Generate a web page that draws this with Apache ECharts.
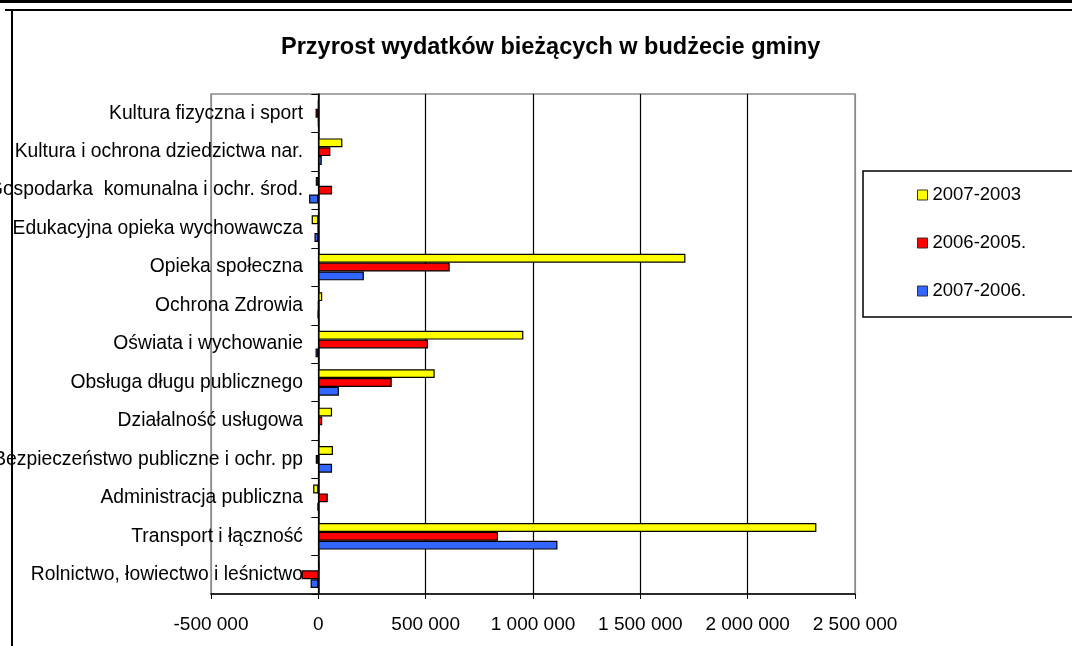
<!DOCTYPE html>
<html>
<head>
<meta charset="utf-8">
<script src="https://cdn.jsdelivr.net/npm/echarts@6/dist/echarts.min.js"></script>
<style>
  html, body { margin: 0; padding: 0; background: #fff; }
  #chart { width: 1072px; height: 646px; }
</style>
</head>
<body>
<div id="chart"></div>
<script>
// categories from top to bottom (y axis is inverted)
const categories = [
  'Kultura fizyczna i sport',
  'Kultura i ochrona dziedzictwa nar.',
  'Gospodarka  komunalna i ochr. środ.',
  'Edukacyjna opieka wychowawcza',
  'Opieka społeczna',
  'Ochrona Zdrowia',
  'Oświata i wychowanie',
  'Obsługa długu publicznego',
  'Działalność usługowa',
  'Bezpieczeństwo publiczne i ochr. pp',
  'Administracja publiczna',
  'Transport i łączność',
  'Rolnictwo, łowiectwo i leśnictwo'
];

const seriesNames = ['2007-2003', '2006-2005.', '2007-2006.'];
const seriesColors = ['#ffff00', '#ff0000', '#3366ff'];

const growth2007_2003 = [0, 112000, -12000, -31000, 1710000, 18000, 955000, 542000, 64000, 68000, -24000, 2320000, 4000];
const growth2006_2005 = [-13000, 56000, 64000, -3000, 612000, 0, 511000, 342000, 18000, -12000, 44000, 837000, -78000];
const growth2007_2006 = [0, 16000, -43000, -18000, 212000, -3000, -13000, 96000, 5000, 64000, -4000, 1114000, -36000];

const axisTicks = [-500000, 0, 500000, 1000000, 1500000, 2000000, 2500000];

const FONT = 'Liberation Sans, Arial, sans-serif';
const seriesData = [growth2007_2003, growth2006_2005, growth2007_2006];

const chart = echarts.init(document.getElementById('chart'), null, { renderer: 'canvas' });

// split lines: plot edges grey, inner gridlines black
const splitColors = axisTicks.map((v, i) => (i === 0 || i === axisTicks.length - 1) ? '#8c8c8c' : '#000');

chart.setOption({
  backgroundColor: '#ffffff',
  animation: false,
  textStyle: { fontFamily: FONT, color: '#000' },
  title: {
    text: 'Przyrost wydatków bieżących w budżecie gminy',
    left: 281,
    top: 36,
    padding: 0,
    textStyle: { fontFamily: FONT, fontSize: 23.5, fontWeight: 'bold', color: '#000' }
  },
  legend: {
    orient: 'vertical',
    left: 863,
    top: 171,
    padding: [14, 120, 16, 54],
    itemGap: 28,
    itemWidth: 10,
    itemHeight: 10,
    icon: 'rect',
    selectedMode: false,
    borderColor: '#000',
    borderWidth: 1.5,
    itemStyle: { borderColor: '#333', borderWidth: 1 },
    textStyle: { fontFamily: FONT, fontSize: 18.5, lineHeight: 20, color: '#000' },
    data: seriesNames
  },
  grid: {
    left: 211,
    right: 217,
    top: 94,
    bottom: 52,
    containLabel: false,
    outerBoundsMode: 'none',
    show: true,
    borderColor: '#8c8c8c',
    borderWidth: 1.5,
    backgroundColor: 'transparent'
  },
  xAxis: {
    type: 'value',
    min: -500000,
    max: 2500000,
    interval: 500000,
    axisLine: { show: true, lineStyle: { color: '#000', width: 1.5 } },
    axisTick: { show: true, length: 5, lineStyle: { color: '#000' } },
    splitLine: { show: true, lineStyle: { color: splitColors, width: 1.2 } },
    axisLabel: {
      margin: 21,
      fontFamily: FONT,
      fontSize: 19,
      color: '#000',
      formatter: v => String(v).replace(/\B(?=(\d{3})+(?!\d))/g, ' ')
    }
  },
  yAxis: {
    type: 'category',
    inverse: true,
    data: categories,
    axisLine: { show: true, onZero: true, lineStyle: { color: '#000', width: 1.5 } },
    axisTick: { show: true, length: 7, lineStyle: { color: '#000' } },
    splitLine: { show: false },
    // labels stay at the grid edge, so shift them to end just left of the zero line
    axisLabel: { margin: -92, fontFamily: FONT, fontSize: 19.3, color: '#000', interval: 0 }
  },
  series: seriesNames.map((name, i) => ({
    name: name,
    type: 'bar',
    data: seriesData[i],
    barGap: '0%',
    barCategoryGap: '31%',
    itemStyle: { color: seriesColors[i], borderColor: '#000', borderWidth: 1.2 }
  })),
  graphic: [
    { type: 'rect', shape: { x: 0, y: 0, width: 1072, height: 3 }, style: { fill: '#000' } },
    { type: 'line', shape: { x1: 5, y1: 10, x2: 1072, y2: 10 }, style: { stroke: '#000', lineWidth: 2 } },
    { type: 'line', shape: { x1: 12, y1: 10, x2: 12, y2: 646 }, style: { stroke: '#000', lineWidth: 2 } }
  ]
});
</script>
</body>
</html>
